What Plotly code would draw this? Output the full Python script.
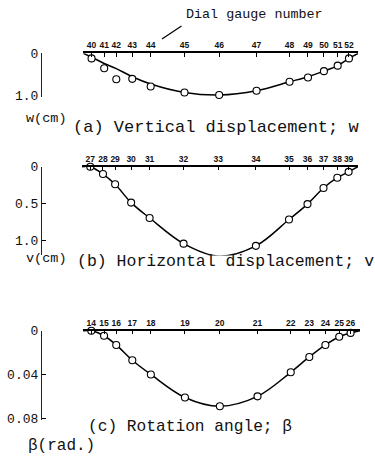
import plotly.graph_objects as go

# Gauge positions along the span (% of span, supports at 0 and 100)
gauge_pos = [3.0, 7.6, 12.0, 17.8, 24.5, 36.8, 49.4, 63.0, 75.0, 81.7, 87.5, 92.5, 96.6]
span_ends = [0, 100]

# (a) vertical displacement w (cm)
w_gauges = ["40", "41", "42", "43", "44", "45", "46", "47", "48", "49", "50", "51", "52"]
w_points = [0.12, 0.35, 0.61, 0.60, 0.78, 0.92, 0.98, 0.88, 0.67, 0.57, 0.42, 0.29, 0.12]
w_curve = [0.0, 0.09, 0.24, 0.36, 0.55, 0.72, 0.92, 0.98, 0.88, 0.67, 0.55, 0.42, 0.29, 0.12, 0.0]

# (b) horizontal displacement v (cm)
v_gauges = ["27", "28", "29", "30", "31", "32", "33", "34", "35", "36", "37", "38", "39"]
v_points = [0.0, 0.10, 0.24, 0.49, 0.70, 1.05, 1.22, 1.08, 0.72, 0.51, 0.29, 0.15, 0.07]
v_curve = [0.0] + v_points + [0.0]

# (c) rotation angle beta (rad.)
b_gauges = ["14", "15", "16", "17", "18", "19", "20", "21", "22", "23", "24", "25", "26"]
b_points = [0.0, 0.0046, 0.013, 0.027, 0.040, 0.061, 0.069, 0.060, 0.038, 0.024, 0.013, 0.0055, 0.002]
b_curve = [0.0] + b_points + [0.0]

curve_x = [span_ends[0]] + gauge_pos + [span_ends[1]]

W, H = 375, 459
MONO = "Liberation Mono, Courier New, monospace"
TICKF = dict(family="Liberation Sans Narrow, Liberation Sans, Arial", size=8.5, color="#111", weight="bold")


def px(v, total):
    return v / total


fig = go.Figure()

panels = [
    ("", w_points, w_curve, w_gauges, (83.3, 358.3), 53.3, 96.7, 1.02, [0, 1.0], ["0", "1.0"]),
    ("2", v_points, v_curve, v_gauges, (82.0, 358.0), 166.7, 255.4, 1.21, [0, 0.5, 1.0], ["0", "0.5", "1.0"]),
    ("3", b_points, b_curve, b_gauges, (83.0, 360.0), 330.7, 420.0, 0.0816, [0, 0.04, 0.08], ["0", "0.04", "0.08"]),
]

for suf, pts, crv, gl, xd, yt, yb, ymax, tv, tt in panels:
    xa, ya = "x" + suf, "y" + suf
    fig.add_trace(go.Scatter(x=curve_x, y=crv, mode="lines", line=dict(color="black", width=1.5, shape="spline", smoothing=1.0),
                             xaxis=xa, yaxis=ya, cliponaxis=False, hoverinfo="skip", showlegend=False))
    fig.add_trace(go.Scatter(x=gauge_pos, y=pts, mode="markers",
                             marker=dict(symbol="circle", size=7, color="white", line=dict(color="black", width=1.1)),
                             xaxis=xa, yaxis=ya, cliponaxis=False, showlegend=False))
    xkey = "xaxis" + suf
    ykey = "yaxis" + suf
    fig.update_layout(**{
        xkey: dict(domain=[px(xd[0], W), px(xd[1], W)], range=[0, 100], side="top", anchor=ya,
                   showline=True, linecolor="black", linewidth=1.5, ticks="inside", ticklen=4, tickwidth=1,
                   tickcolor="black", tickvals=gauge_pos, ticktext=gl, tickfont=TICKF, tickangle=0,
                   showgrid=False, zeroline=False, fixedrange=True, automargin=False),
        ykey: dict(domain=[1 - yb / H, 1 - yt / H], range=[ymax, 0], anchor="free", position=px(41, W),
                   showline=True, linecolor="#222", linewidth=1.2, ticks="inside", ticklen=4, tickwidth=1,
                   tickcolor="black", tickvals=tv, ticktext=tt, tickfont=dict(family=MONO, size=13, color="#111"),
                   showgrid=False, zeroline=False, fixedrange=True, automargin=False),
    })

ann = []


def text(t, x, y, size, anchor="left"):
    ann.append(dict(text=t, x=x / W, y=1 - y / H, xref="paper", yref="paper", showarrow=False,
                    xanchor=anchor, yanchor="middle", font=dict(family=MONO, size=size, color="#111")))


text("Dial gauge number", 184, 15, 13.4)
text("w(cm)", 24, 118, 13.5)
text("(a) Vertical displacement; w", 71, 127, 17)
text("v(cm)", 24, 258, 13.5)
text("(b) Horizontal displacement; v", 75, 261, 16.5)
text("(c) Rotation angle; \u03b2", 86, 427, 16.2)
text("\u03b2(rad.)", 26, 446, 16)

ann.append(dict(x=162 / W, y=1 - 39 / H, xref="paper", yref="paper", ax=21, ay=-14, text="",
                showarrow=True, arrowhead=0, arrowwidth=1.2, arrowcolor="black"))

fig.update_layout(width=W, height=H, autosize=False, margin=dict(l=0, r=0, t=0, b=0, autoexpand=False),
                  paper_bgcolor="white", plot_bgcolor="white", annotations=ann, showlegend=False)

fig.write_html("out.html", config={"displayModeBar": False},
               post_script="document.body.style.margin='0';document.body.style.overflow='hidden';")
